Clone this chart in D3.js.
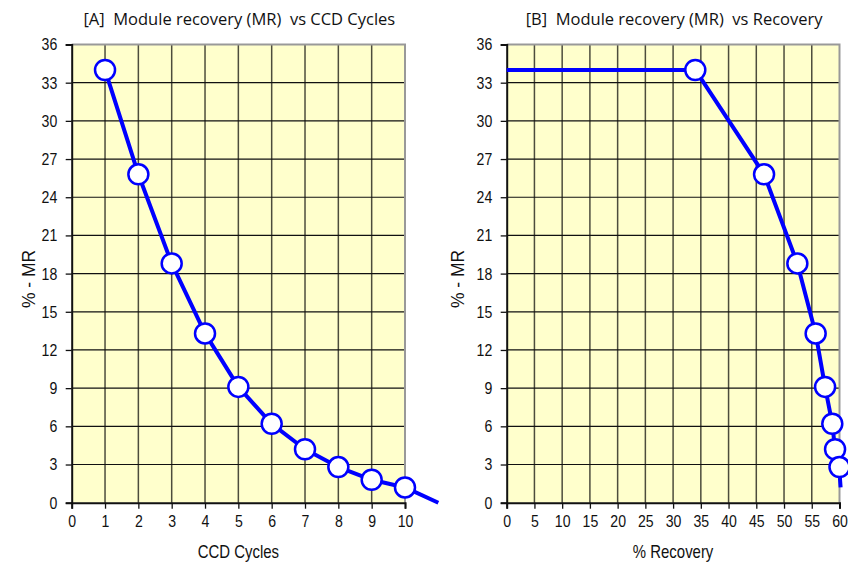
<!DOCTYPE html>
<html>
<head>
<meta charset="utf-8">
<script src="https://cdn.jsdelivr.net/npm/d3@7"></script>
<style>
  html, body { margin: 0; padding: 0; background: #fff; }
  svg { display: block; }
  .tick-lbl { font-family: "Liberation Sans", Arial, sans-serif; font-size: 17px; fill: #111; }
  .ax-title { font-family: "Liberation Sans", Arial, sans-serif; font-size: 18px; fill: #111; }
  .title { font-family: "Open Sans", "Liberation Sans", Arial, sans-serif; font-size: 16.5px; fill: #111; white-space: pre; }
</style>
</head>
<body>
<svg id="chart" width="848" height="562"></svg>
<script>
// CCD cycle number and module recovery (%) after each cycle
const cycles = [1, 2, 3, 4, 5, 6, 7, 8, 9, 10, 11];
const mr = [34.0, 25.8, 18.8, 13.3, 9.1, 6.2, 4.2, 2.8, 1.8, 1.2, 0.0];
// cumulative % recovery reached at cycles 1..10
const recovery = [34.0, 46.4, 52.4, 55.7, 57.4, 58.7, 59.2, 60.0, 60.1, 60.2];
const recoveryStart = 0;

// tick values
const mrTicks = [0, 3, 6, 9, 12, 15, 18, 21, 24, 27, 30, 33, 36];
const cycleTicks = [0, 1, 2, 3, 4, 5, 6, 7, 8, 9, 10];
const recoveryTicks = [0, 5, 10, 15, 20, 25, 30, 35, 40, 45, 50, 55, 60];

const titles = ["[A]  Module recovery (MR)  vs CCD Cycles", "[B]  Module recovery (MR)  vs Recovery"];
const xTitles = ["CCD Cycles", "% Recovery"];
const yTitle = "% - MR";

// horizontal squeeze giving the narrow lettering of labels
const NARROW = 0.83;

const svg = d3.select("#chart");

const yScale = d3.scaleLinear().domain([0, 36]).range([502.7, 44.5]);

const panels = [
  {
    x: d3.scaleLinear().domain([0, 10]).range([71.7, 405]),
    ticks: cycleTicks,
    pts: cycles.map((c, i) => ({ x: c, y: mr[i] })),
    title: titles[0], xTitle: xTitles[0], yLabelX: 28
  },
  {
    x: d3.scaleLinear().domain([0, 60]).range([506.7, 839.5]),
    ticks: recoveryTicks,
    pts: [{ x: recoveryStart, y: mr[0], lead: true }]
      .concat(recovery.map((r, i) => ({ x: r, y: mr[i] }))),
    title: titles[1], xTitle: xTitles[1], yLabelX: 457.5
  }
];

panels.forEach(p => {
  const g = svg.append("g");
  const [x0, x1] = p.x.range();
  const [yb, yt] = yScale.range();

  // plot area background
  g.append("rect")
    .attr("x", x0).attr("y", yt)
    .attr("width", x1 - x0).attr("height", yb - yt)
    .attr("fill", "#ffffcc");

  // vertical grid lines
  g.append("g").selectAll("line")
    .data(p.ticks.slice(1, -1))
    .join("line")
    .attr("x1", d => p.x(d)).attr("x2", d => p.x(d))
    .attr("y1", yt).attr("y2", yb)
    .attr("stroke", "#4d4d3d").attr("stroke-width", 1.5);

  // horizontal grid lines
  g.append("g").selectAll("line")
    .data(mrTicks.slice(1, -1))
    .join("line")
    .attr("x1", x0).attr("x2", x1)
    .attr("y1", d => yScale(d)).attr("y2", d => yScale(d))
    .attr("stroke", "#111").attr("stroke-width", 1.2);

  // plot border (top and right)
  g.append("path")
    .attr("d", `M${x0},${yt}H${x1}V${yb}`)
    .attr("fill", "none").attr("stroke", "#999").attr("stroke-width", 2);

  // y axis
  const yAxis = g.append("g")
    .attr("transform", `translate(${x0},0)`)
    .call(d3.axisLeft(yScale).tickValues(mrTicks).tickSize(6).tickPadding(4));
  yAxis.select(".domain").attr("stroke", "#111").attr("stroke-width", 2);
  yAxis.selectAll(".tick line").attr("stroke", "#111").attr("stroke-width", 1.3);
  yAxis.selectAll(".tick text")
    .attr("class", "tick-lbl").attr("font-family", null).attr("font-size", null)
    .attr("x", -14.4 / NARROW)
    .attr("transform", `scale(${NARROW},1)`);

  // x axis
  const xAxis = g.append("g")
    .attr("transform", `translate(0,${yb})`)
    .call(d3.axisBottom(p.x).tickValues(p.ticks).tickSize(6).tickPadding(6));
  xAxis.select(".domain").attr("stroke", "#111").attr("stroke-width", 2);
  xAxis.selectAll(".tick line").attr("stroke", "#111").attr("stroke-width", 1.3);
  xAxis.selectAll(".tick text")
    .attr("class", "tick-lbl").attr("font-family", null).attr("font-size", null)
    .attr("transform", `scale(${NARROW},1)`);

  // titles
  g.append("text").attr("class", "title")
    .attr("x", (x0 + x1) / 2 + 1).attr("y", 25)
    .attr("text-anchor", "middle")
    .text(p.title);

  g.append("text").attr("class", "ax-title")
    .attr("transform", `translate(${(x0 + x1) / 2},558) scale(${NARROW},1)`)
    .attr("text-anchor", "middle")
    .text(p.xTitle);

  g.append("text").attr("class", "ax-title")
    .attr("transform", `translate(${p.yLabelX},279) rotate(-90) scale(0.92,1)`)
    .attr("text-anchor", "middle")
    .attr("dy", "0.35em")
    .style("font-size", "19px")
    .style("white-space", "pre")
    .text(yTitle);

  // series line
  const line = d3.line().x(d => p.x(d.x)).y(d => yScale(d.y));
  g.append("path")
    .datum(p.pts)
    .attr("d", line)
    .attr("fill", "none")
    .attr("stroke", "#0000ff")
    .attr("stroke-width", 4)
    .attr("stroke-linejoin", "round");

  // markers for points that fall inside the plotted range
  const xMax = p.x.domain()[1];
  g.append("g").selectAll("circle")
    .data(p.pts.filter(d => !d.lead && d.x <= xMax))
    .join("circle")
    .attr("cx", d => p.x(d.x))
    .attr("cy", d => yScale(d.y))
    .attr("r", 10)
    .attr("fill", "#fff")
    .attr("stroke", "#0000ff")
    .attr("stroke-width", 2.5);
});
</script>
</body>
</html>
